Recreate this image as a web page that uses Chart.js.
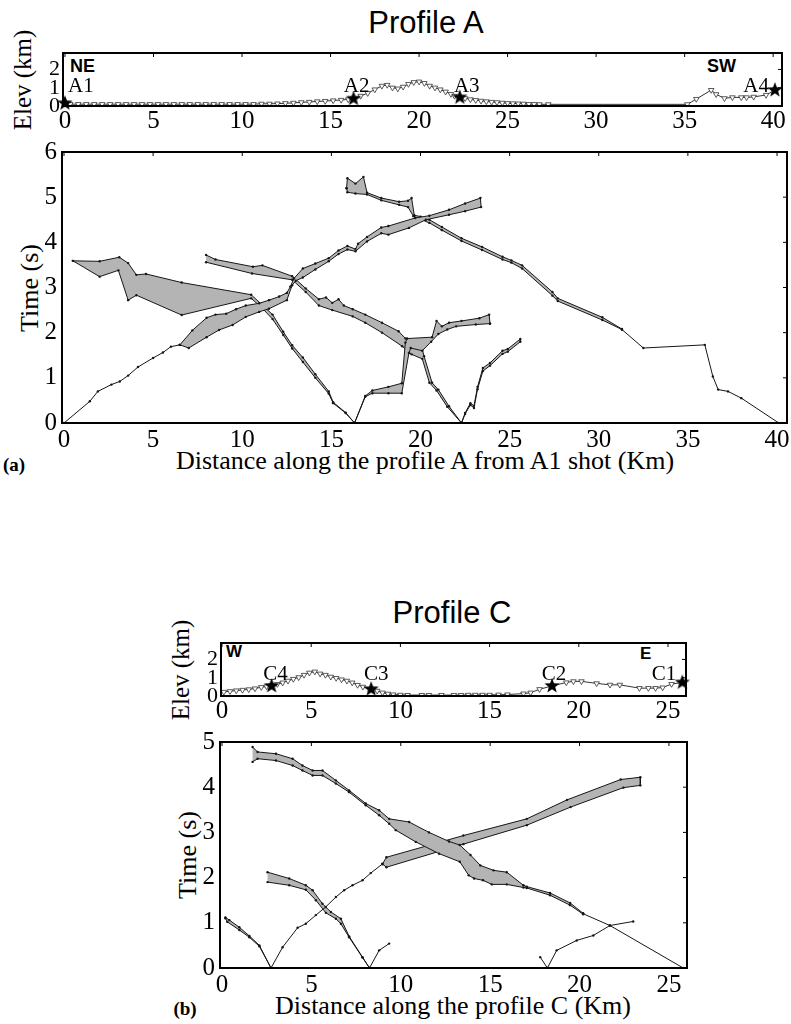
<!DOCTYPE html>
<html><head><meta charset="utf-8">
<script src="https://cdn.jsdelivr.net/npm/chart.js@4.4.1/dist/chart.umd.min.js"></script>
<style>
body{margin:0;background:#fff;width:791px;height:1024px;position:relative;overflow:hidden}
canvas{position:absolute}
.t{position:absolute;white-space:nowrap;color:#000;line-height:1}
.serif{font-family:"Liberation Serif","Times New Roman",serif}
.sans{font-family:"Liberation Sans",Arial,sans-serif}
.c{transform:translate(-50%,-50%)}
.rot{transform:translate(-50%,-50%) rotate(-90deg)}
</style></head><body>
<div class="t sans c" style="left:426px;top:22px;font-size:31px">Profile A</div>
<div class="t serif rot" style="left:22px;top:80px;font-size:25px">Elev (km)</div>
<div class="t serif rot" style="left:30px;top:288px;font-size:26px">Time (s)</div>
<div class="t serif c" style="left:425px;top:461px;font-size:26px">Distance along the profile A from A1 shot (Km)</div>
<div class="t serif c" style="left:14px;top:464px;font-size:19px;font-weight:bold">(a)</div>
<div class="t sans" style="left:70px;top:57px;font-size:18px;font-weight:bold">NE</div>
<div class="t sans" style="left:707px;top:57px;font-size:18px;font-weight:bold">SW</div>

<div class="t sans c" style="left:452px;top:612px;font-size:31px">Profile C</div>
<div class="t serif rot" style="left:180px;top:670px;font-size:25px">Elev (km)</div>
<div class="t serif rot" style="left:188px;top:855px;font-size:26px">Time (s)</div>
<div class="t serif c" style="left:453px;top:1006px;font-size:26px">Distance along the profile C (Km)</div>
<div class="t serif c" style="left:185px;top:1008px;font-size:19px;font-weight:bold">(b)</div>
<div class="t sans" style="left:226px;top:643px;font-size:17px;font-weight:bold">W</div>
<div class="t sans" style="left:640px;top:645px;font-size:17px;font-weight:bold">E</div>

<canvas id="aElev" width="791" height="92" style="left:0;top:40px;width:791px;height:92px"></canvas>
<canvas id="aMain" width="791" height="314" style="left:0;top:140px;width:791px;height:314px"></canvas>
<canvas id="cElev" width="560" height="92" style="left:150px;top:630px;width:560px;height:92px"></canvas>
<canvas id="cMain" width="560" height="270" style="left:150px;top:730px;width:560px;height:270px"></canvas>
<script>
// ---------- tick labels ----------
const elevTicks = [0,1,2];
const distTicksA = [0,5,10,15,20,25,30,35,40];
const distTicksC = [0,5,10,15,20,25];
const timeTicksA = [0,1,2,3,4,5,6];
const timeTicksC = [0,1,2,3,4,5];

// ---------- Profile A : shots and receivers ----------
const shotNamesA = ['A1','A2','A3','A4'];
const shotXA = [0.0,16.3,22.3,40.1];
const shotElevA = [0.15,0.40,0.47,0.87];
const rcvXA = [0.3,0.75,1.2,1.65,2.1,2.55,3.0,3.45,3.9,4.35,4.8,5.25,5.7,6.15,6.6,7.05,7.5,7.95,8.4,8.85,9.3,9.75,10.2,10.65,11.1,11.55,12.0,12.45,12.9,13.35,13.8,14.25,14.7,15.15,15.6,16.0,16.7,17.1,17.5,17.9,18.2,18.5,18.8,19.1,19.4,19.7,20.0,20.3,20.6,20.9,21.2,21.5,21.8,22.0,22.6,22.9,23.2,23.5,23.8,24.1,24.4,24.7,25.0,25.3,25.6,25.9,26.2,26.5,26.8,27.3,35.15,35.66,36.5,36.78,37.25,37.7,38.2,38.5,38.9,39.6];
const rcvElevA = [0.1,0.1,0.1,0.1,0.1,0.1,0.1,0.1,0.1,0.1,0.1,0.1,0.1,0.1,0.1,0.1,0.1,0.1,0.1,0.1,0.1,0.1,0.1,0.1,0.12,0.12,0.13,0.15,0.17,0.2,0.22,0.25,0.27,0.3,0.33,0.36,0.55,0.7,0.9,1.1,1.15,1.0,0.95,1.05,1.2,1.3,1.33,1.25,1.1,1.0,0.9,0.78,0.65,0.55,0.42,0.36,0.32,0.28,0.25,0.22,0.2,0.17,0.15,0.14,0.13,0.12,0.1,0.1,0.09,0.09,0.09,0.38,0.87,0.64,0.42,0.47,0.47,0.47,0.5,0.6];

// ---------- Profile A : travel-time picks [distance km, time s] ----------
const a1Lead = [[0,0],[1.45,0.48],[1.9,0.7],[2.66,0.85],[3.13,0.92],[3.6,1.05],[4.15,1.24],[5.0,1.44],[5.55,1.56],[6.0,1.69],[6.5,1.73]];
const a1Upper = [[6.5,1.73],[7.2,2.05],[8.0,2.33],[8.5,2.4],[9.1,2.42],[9.65,2.52],[10.2,2.6],[10.95,2.65],[11.5,2.72],[12.07,2.8],[12.5,2.88],[12.7,3.02],[12.9,3.2],[13.4,3.42],[14.1,3.53],[14.85,3.65],[15.4,3.82],[15.9,3.92],[16.35,3.85],[16.5,3.97],[17.0,4.12],[17.8,4.33],[18.2,4.36],[19.7,4.54],[20.5,4.59],[21.6,4.72],[22.5,4.86],[23.36,4.98]];
const a1Lower = [[6.5,1.73],[7.0,1.66],[8.0,1.9],[8.7,2.06],[9.46,2.17],[10.2,2.35],[10.95,2.46],[11.5,2.53],[12.5,2.72],[12.8,3.05],[13.0,3.15],[13.4,3.22],[14.1,3.4],[14.85,3.58],[15.4,3.74],[15.9,3.84],[16.35,3.8],[17.0,4.02],[17.8,4.2],[18.2,4.17],[19.35,4.32],[20.3,4.5],[21.6,4.61],[22.5,4.69],[23.4,4.78]];
const a2bUpper = [[0.5,3.59],[2.0,3.58],[3.1,3.67],[3.6,3.54],[4.06,3.28],[4.6,3.3],[6.6,3.11],[10.5,2.84],[11.1,2.62],[11.7,2.4],[12.3,2.02],[12.8,1.72],[13.4,1.45],[14.1,1.08],[14.85,0.7],[15.1,0.46],[15.8,0.23],[16.3,0]];
const a2bLower = [[0.5,3.59],[2.0,3.24],[3.05,3.38],[3.6,2.72],[4.06,2.83],[6.6,2.39],[10.5,2.76],[11.1,2.55],[11.7,2.3],[12.3,1.95],[12.8,1.65],[13.4,1.35],[14.1,1.0],[14.85,0.65],[15.1,0.44],[15.8,0.22],[16.3,0]];
const a2fUpper = [[16.3,0],[16.9,0.6],[17.3,0.72],[18.2,0.8],[18.95,0.88],[19.15,1.78],[19.25,1.87],[20.65,1.9],[20.9,2.26],[21.2,2.14],[21.6,2.22],[22.3,2.26],[23.3,2.32],[23.85,2.4],[23.9,2.2]];
const a2fLower = [[16.3,0],[16.9,0.58],[17.3,0.66],[18.2,0.66],[18.95,0.66],[19.35,1.55],[19.45,1.66],[20.1,1.6],[20.6,1.8],[21.0,1.97],[21.5,2.07],[22.0,2.14],[23.1,2.18],[23.9,2.2]];
const a3bUpper = [[7.97,3.72],[8.5,3.62],[10.6,3.46],[11.13,3.49],[12.8,3.25],[13.56,2.98],[14.3,2.74],[14.7,2.78],[15.05,2.66],[15.4,2.74],[15.7,2.6],[16.2,2.52],[16.9,2.4],[17.84,2.22],[18.77,2.03],[19.16,1.87],[20.1,1.63],[20.2,1.48],[20.65,0.89],[21.0,0.74],[21.6,0.37],[22.3,0]];
const a3bLower = [[7.97,3.56],[10.55,3.31],[12.8,3.17],[13.56,2.9],[14.3,2.6],[15.05,2.5],[16.2,2.36],[16.9,2.22],[17.84,2.0],[18.97,1.7],[19.5,1.52],[20.1,1.42],[20.5,0.89],[20.9,0.72],[21.5,0.36],[22.3,0]];
const a3fUpper = [[22.3,0],[22.5,0.22],[22.8,0.44],[23.0,0.38],[23.2,0.8],[23.5,1.22],[23.9,1.33],[24.6,1.6],[24.9,1.64],[25.6,1.86]];
const a3fLower = [[22.3,0],[22.5,0.2],[22.8,0.4],[23.0,0.33],[23.2,0.75],[23.5,1.15],[23.9,1.27],[24.6,1.53],[24.9,1.58],[25.6,1.8]];
const a4bUpper = [[15.85,5.2],[15.9,5.42],[16.35,5.3],[16.8,5.45],[17.0,5.1],[17.8,4.98],[18.8,4.9],[19.3,4.92],[19.5,4.98],[19.65,4.6],[20.0,4.57],[20.5,4.5],[21.2,4.34],[22.3,4.09],[23.45,3.9],[24.6,3.68],[25.1,3.6],[25.7,3.49],[27.4,2.9],[27.7,2.76],[30.2,2.34],[31.3,2.08]];
const a4bLower = [[15.85,5.2],[15.9,5.11],[16.35,5.08],[17.0,5.06],[17.8,4.93],[18.8,4.83],[19.3,4.78],[19.6,4.58],[20.0,4.51],[20.5,4.43],[21.2,4.27],[22.3,4.03],[23.45,3.83],[24.6,3.62],[25.1,3.55],[25.7,3.42],[27.4,2.82],[27.7,2.7],[30.2,2.28],[31.3,2.07]];
const a4bTail = [[31.3,2.07],[32.5,1.66],[35.95,1.73],[36.4,1.03],[36.7,0.74],[37.25,0.7],[38.0,0.55],[40.1,0]];

// ---------- Profile C : shots and receivers ----------
const shotNamesC = ['C4','C3','C2','C1'];
const shotXC = [2.78,8.36,18.5,25.8];
const shotElevC = [0.55,0.37,0.55,0.74];
const rcvXC = [0.1,0.45,0.8,1.15,1.5,1.85,2.2,2.5,3.1,3.4,3.7,4.0,4.3,4.6,4.9,5.2,5.5,5.8,6.1,6.4,6.7,7.0,7.3,7.6,7.9,8.7,9.0,9.3,9.6,10.0,10.4,11.2,11.6,12.3,13.0,13.4,13.8,14.2,14.6,15.0,15.5,16.0,16.9,17.3,17.8,19.3,19.7,20.15,21.0,21.75,22.3,23.4,23.9,24.3,24.7,25.2];
const rcvElevC = [0.22,0.26,0.3,0.33,0.36,0.41,0.48,0.52,0.65,0.73,0.83,0.93,1.02,1.15,1.27,1.33,1.22,1.15,1.05,0.98,0.9,0.83,0.73,0.6,0.5,0.28,0.18,0.12,0.08,0.06,0.05,0.05,0.05,0.05,0.05,0.05,0.06,0.06,0.06,0.06,0.07,0.08,0.13,0.18,0.37,0.74,0.8,0.8,0.69,0.61,0.61,0.43,0.43,0.43,0.46,0.65];

// ---------- Profile C : travel-time picks ----------
const c4bUpper = [[0.19,1.12],[0.41,1.06],[0.97,0.9],[1.53,0.71],[2.09,0.5],[2.74,0]];
const c4bLower = [[0.19,1.1],[0.3,1.02],[0.97,0.84],[1.53,0.68],[2.09,0.48],[2.74,0]];
const c4fLead = [[2.74,0],[3.39,0.46],[4.23,0.89],[4.69,0.98],[5.25,1.17],[5.8,1.35],[6.37,1.57],[6.83,1.72],[7.3,1.83],[7.86,1.94],[8.32,2.1],[8.97,2.3]];
const c4fUpper = [[8.97,2.3],[9.2,2.45],[13.5,2.93],[17.05,3.3],[19.3,3.72],[22.3,4.17],[23.4,4.22]];
const c4fLower = [[8.97,2.3],[9.2,2.23],[13.5,2.74],[17.05,3.16],[19.5,3.56],[22.45,3.99],[23.4,4.04]];
const c3bUpper = [[2.55,2.12],[3.76,1.98],[4.69,1.83],[5.07,1.72],[5.62,1.42],[6.09,1.24],[6.65,1.09],[7.11,0.7],[7.86,0.24],[8.25,0]];
const c3bLower = [[2.55,1.9],[3.76,1.83],[4.69,1.73],[5.25,1.5],[5.81,1.22],[6.37,1.09],[6.65,0.98],[7.11,0.68],[7.86,0.23],[8.25,0]];
const c3fLine = [[8.25,0],[8.79,0.39],[9.35,0.54]];
const c1bUpper = [[1.71,4.89],[1.99,4.78],[3.02,4.74],[3.95,4.63],[4.5,4.48],[5.07,4.37],[5.62,4.37],[6.37,4.15],[7.11,3.93],[8.04,3.64],[8.79,3.49],[9.35,3.3],[10.47,3.23],[11.58,3.0],[12.7,2.8],[13.3,2.72],[13.9,2.5],[14.45,2.27],[15.19,2.16],[15.93,2.12],[16.86,1.83],[17.05,1.8],[18.35,1.66],[19.47,1.44],[20.2,1.21]];
const c1bLower = [[1.71,4.56],[1.99,4.63],[3.02,4.59],[3.95,4.48],[4.5,4.37],[5.07,4.26],[5.62,4.26],[6.37,4.08],[7.11,3.89],[8.04,3.6],[8.79,3.38],[9.35,3.19],[9.72,3.05],[10.84,2.79],[12.14,2.53],[13.3,2.35],[13.8,2.05],[14.1,1.98],[14.6,1.94],[15.09,1.85],[15.93,1.85],[16.86,1.78],[17.05,1.77],[18.35,1.61],[19.47,1.39],[20.2,1.19]];
const c1bTail = [[20.2,1.2],[21.7,0.94],[25.8,0]];
const c2fLine = [[18.2,0],[18.72,0.39],[19.84,0.61],[20.77,0.72],[21.7,0.94],[23.0,1.03]];
const c2bLine = [[18.2,0],[17.8,0.24]];

// ---------- helpers ----------
const toPts = arr => arr.map(([x,y]) => ({x, y}));
const zipPts = (xs, ys) => xs.map((x,i) => ({x, y: ys[i]}));
const LINE = '#161616', GREY = '#b4b4b4';
function lineDS(arr){
  return {data: toPts(arr), showLine:true, borderColor:LINE, borderWidth:1, pointRadius:1.2,
    pointBackgroundColor:LINE, pointBorderWidth:0, fill:false, tension:0};
}
function bandDS(up, lo){
  return {data: toPts(up).concat(toPts(lo).reverse()), showLine:true, borderColor:LINE, borderWidth:1,
    pointRadius:1.2, pointBackgroundColor:LINE, pointBorderWidth:0, fill:'shape', backgroundColor:GREY, tension:0};
}
function starImg(r){
  const c=document.createElement('canvas'); c.width=c.height=2*r+2;
  const g=c.getContext('2d'); g.translate(r+1,r+1); g.beginPath();
  for(let i=0;i<10;i++){const rr=i%2?r*0.42:r; const a=-Math.PI/2+i*Math.PI/5; g.lineTo(rr*Math.cos(a),rr*Math.sin(a));}
  g.closePath(); g.fillStyle='#000'; g.fill(); return c;
}
const STAR = starImg(8);

const framePlugin = {id:'frame', afterDraw(ch){
  const {ctx, chartArea:a} = ch; const sx = ch.scales.x, sy = ch.scales.y;
  ctx.save(); ctx.strokeStyle='#000'; ctx.lineWidth=1;
  sx.ticks.forEach(t=>{const x=sx.getPixelForValue(t.value); ctx.beginPath(); ctx.moveTo(x,a.top); ctx.lineTo(x,a.top+4); ctx.stroke();});
  sy.ticks.forEach(t=>{const y=sy.getPixelForValue(t.value); ctx.beginPath(); ctx.moveTo(a.right,y); ctx.lineTo(a.right-4,y); ctx.stroke();});
  ctx.lineWidth=2; ctx.strokeRect(a.left,a.top,a.right-a.left,a.bottom-a.top);
  ctx.restore();
}};
const shotLabelPlugin = {id:'shotLabels', afterDatasetsDraw(ch, args, opts){
  if(!opts.names) return;
  const {ctx} = ch; const sx=ch.scales.x, sy=ch.scales.y;
  ctx.save(); ctx.font='21px "Liberation Serif", serif'; ctx.fillStyle='#000'; ctx.textBaseline='alphabetic';
  opts.names.forEach((n,i)=>{
    const px=sx.getPixelForValue(opts.xs[i]);
    const al = opts.align[i]; ctx.textAlign = al;
    const dx = al==='left' ? 3 : (al==='right' ? -6 : opts.shift[i]);
    ctx.fillText(n, px+dx, opts.base);
  });
  ctx.restore();
}};

function makeChart(id, o, datasets, extra){
  return new Chart(document.getElementById(id), {
    type:'scatter',
    data:{datasets},
    plugins:[framePlugin, shotLabelPlugin],
    options:{
      responsive:false, animation:false, devicePixelRatio:1, events:[],
      layout:{padding:{left:0,right:o.padR,top:o.padT,bottom:0}},
      plugins:{legend:{display:false}, tooltip:{enabled:false}, title:{display:false}, shotLabels: extra || {}},
      scales:{
        x:{type:'linear', min:o.xmin, max:o.xmax,
          afterBuildTicks:s=>{s.ticks=o.xt.map(v=>({value:v}));},
          afterFit:s=>{s.height=o.xH; s.paddingLeft=0; s.paddingRight=0;},
          ticks:{color:'#000', font:{family:'Liberation Serif', size:o.xFont, lineHeight:1.0}, padding:o.xPad, maxRotation:0, autoSkip:false},
          grid:{display:false, drawTicks:false}, border:{display:false}},
        y:{type:'linear', min:o.ymin, max:o.ymax,
          afterBuildTicks:s=>{s.ticks=o.yt.map(v=>({value:v}));},
          afterFit:s=>{s.width=o.yW; s.paddingTop=0; s.paddingBottom=0;},
          ticks:{color:'#000', font:{family:'Liberation Serif', size:o.yFont}, padding:o.yPad, autoSkip:false},
          grid:{display:false, drawTicks:false}, border:{display:false}}
      }
    }
  });
}

function elevDatasets(sx, se, rx, re){
  const prof = zipPts(rx, re).concat(zipPts(sx, se)).sort((a,b)=>a.x-b.x);
  return [
    {data: zipPts(sx, se), showLine:false, pointStyle:STAR, pointRadius:8, clip:false},
    {data: zipPts(rx, re), showLine:false, pointStyle:'triangle', pointRotation:180, pointRadius:3.2,
      pointBackgroundColor:'#fff', pointBorderColor:'#333', pointBorderWidth:0.8},
    {data: prof, showLine:true, borderColor:'#333', borderWidth:1, pointRadius:0, fill:false, tension:0}
  ];
}

// ---------- Profile A ----------
makeChart('aElev', {xmin:-0.112, xmax:40.5, ymin:0, ymax:2.9, xt:distTicksA, yt:elevTicks, padR:2, padT:13, xH:26, yW:63, xPad:3, yPad:3, xFont:25, yFont:22},
  elevDatasets(shotXA, shotElevA, rcvXA, rcvElevA),
  {names:shotNamesA, xs:shotXA, ys:shotElevA, align:['left','center','center','right'], shift:[0,3,7,0], base:52});

makeChart('aMain', {xmin:-0.112, xmax:40.56, ymin:0, ymax:6, xt:distTicksA, yt:timeTicksA, padR:2, padT:12, xH:31, yW:62, xPad:5, yPad:5, xFont:25, yFont:25},
  [bandDS(a1Upper,a1Lower), lineDS(a1Lead), bandDS(a2bUpper,a2bLower), bandDS(a2fUpper,a2fLower),
   bandDS(a3bUpper,a3bLower), bandDS(a3fUpper,a3fLower), bandDS(a4bUpper,a4bLower), lineDS(a4bTail)]);

// ---------- Profile C ----------
makeChart('cElev', {xmin:-0.056, xmax:26.01, ymin:0, ymax:2.9, xt:distTicksC, yt:elevTicks, padR:24, padT:13, xH:26, yW:71, xPad:3, yPad:3, xFont:25, yFont:22},
  elevDatasets(shotXC, shotElevC, rcvXC, rcvElevC),
  {names:shotNamesC, xs:shotXC, ys:shotElevC, align:['center','center','center','right'], shift:[4,5,2,0], base:50});

makeChart('cMain', {xmin:-0.112, xmax:26.01, ymin:0, ymax:5, xt:distTicksC, yt:timeTicksC, padR:23, padT:12, xH:32, yW:70, xPad:5, yPad:5, xFont:25, yFont:25},
  [bandDS(c1bUpper,c1bLower), lineDS(c1bTail), bandDS(c4bUpper,c4bLower), lineDS(c4fLead), bandDS(c4fUpper,c4fLower),
   bandDS(c3bUpper,c3bLower), lineDS(c3fLine), lineDS(c2fLine), lineDS(c2bLine)]);
</script>
</body></html>
